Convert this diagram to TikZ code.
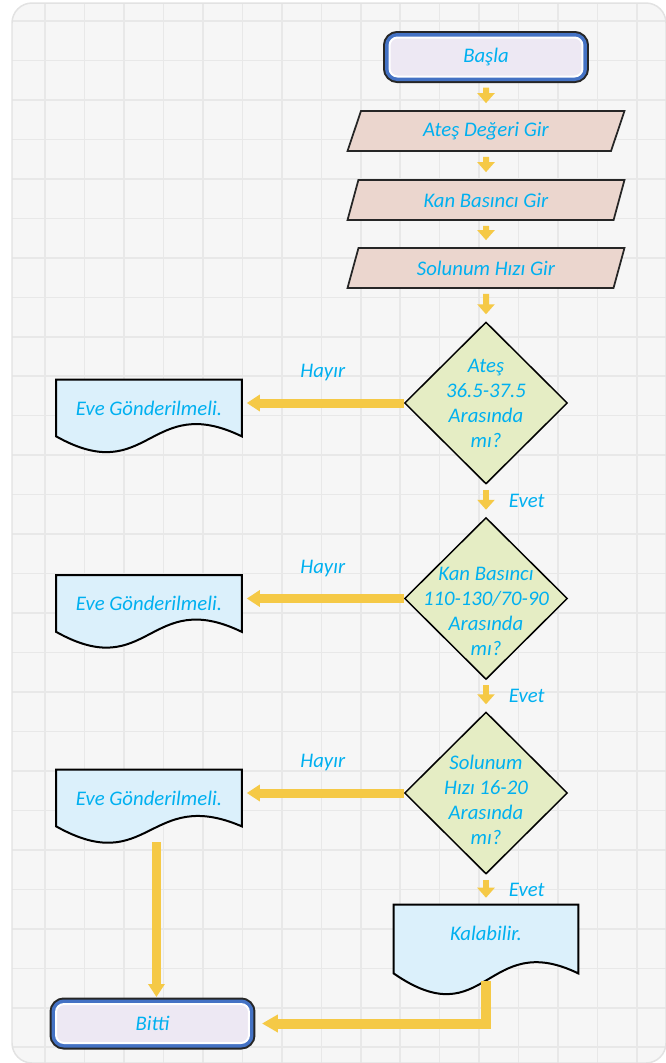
\documentclass[tikz,border=0pt]{standalone}
\usepackage{fontspec}
\setmainfont{Carlito}
\usepackage{tikz}
\usetikzlibrary{shapes,arrows.meta,positioning,calc}

\definecolor{paper}{HTML}{F6F6F6}
\definecolor{framegray}{HTML}{E2E2E2}
\definecolor{gridgray}{HTML}{E8E8E8}
\definecolor{txtblue}{HTML}{00B0F0}
\definecolor{termblue}{HTML}{4472C4}
\definecolor{lavender}{HTML}{EDE8F3}
\definecolor{parfill}{HTML}{EBD6CE}
\definecolor{decfill}{HTML}{E5EDC4}
\definecolor{docfill}{HTML}{DBF0FB}
\definecolor{flowyellow}{HTML}{F5C946}

\pgfdeclarelayer{grid}
\pgfdeclarelayer{background}
\pgfsetlayers{grid,background,main}

% document outline under a node: node, dip, rise
\newcommand{\docshape}[3]{%
  \begin{pgfonlayer}{background}
    \draw[docline] (#1.north west) -- (#1.north east) -- (#1.south east)
      .. controls ($(#1.south)+(0,-#3)$) and ($(#1.south)+(0,#2)$) .. (#1.south west) -- cycle;
  \end{pgfonlayer}}

\begin{document}
\begin{tikzpicture}[x=0.02cm,y=-0.02cm,
  txt/.style={text=txtblue,font=\itshape\fontsize{11.8}{14.2}\selectfont},
  term/.style={txt,rectangle,rounded corners=0.16cm,fill=lavender,draw=white,line width=0.04cm,
    minimum width=3.86cm,minimum height=0.78cm,
    preaction={draw=black!85,line width=0.26cm},preaction={draw=termblue,line width=0.18cm}},
  inbox/.style={txt,trapezium,trapezium left angle=53,trapezium right angle=127,trapezium stretches body,
    minimum width=5.54cm,minimum height=0.8cm,inner sep=0pt,fill=parfill,draw=black!85,line width=0.035cm},
  decision/.style={diamond,minimum width=3.26cm,minimum height=3.24cm,inner sep=0pt,
    fill=decfill,draw=black,line width=0.03cm},
  qtext/.style={txt,align=center},
  doc/.style={txt,rectangle,minimum width=3.7cm,minimum height=1.12cm,inner sep=0pt},
  docline/.style={fill=docfill,draw=black,line width=0.04cm},
  flow/.style={draw=flowyellow,line width=0.12cm,shorten <=0.1cm,shorten >=0.14cm,
    -{Triangle[width=0.34cm,length=0.2cm]}},
  flowside/.style={draw=flowyellow,line width=0.18cm,shorten >=0.1cm,
    -{Triangle[width=0.32cm,length=0.26cm]}},
  flowlong/.style={draw=flowyellow,line width=0.2cm,shorten >=0.24cm,
    -{Triangle[width=0.34cm,length=0.32cm]}},
  gridline/.style={draw=gridgray,line width=0.03cm},
  lbl/.style={txt}]

  \useasboundingbox (0,0) rectangle (666,1063);

  % squared paper
  \begin{pgfonlayer}{grid}
    \fill[paper,rounded corners=0.4cm] (12,3) rectangle (666,1063);
    \begin{scope}
      \clip[rounded corners=0.4cm] (12,3) rectangle (666,1063);
      \foreach \gx in {0,...,16}
        \draw[gridline] ({45+39.47*\gx},0) -- ({45+39.47*\gx},1063);
      \foreach \gy in {0,...,26}
        \draw[gridline] (0,{21+39.47*\gy}) -- (666,{21+39.47*\gy});
    \end{scope}
    \draw[framegray,line width=0.03cm,rounded corners=0.4cm] (12,3) rectangle (666,1063);
  \end{pgfonlayer}

  % main column
  \node[term] (start) at (486,57) {Başla};
  \node[inbox] (in1) at (486,131) {Ateş Değeri Gir};
  \node[inbox] (in2) at (486,200) {Kan Basıncı Gir};
  \node[inbox] (in3) at (486,268) {Solunum Hızı Gir};
  \node[decision,label={[qtext]center:{Ateş\\36.5-37.5\\Arasında\\mı?}}] (d1) at (486,403) {};
  \node[decision,label={[qtext,yshift=-0.26cm]center:{Kan Basıncı\\110-130/70-90\\Arasında\\mı?}}] (d2) at (486,598.5) {};
  \node[decision,label={[qtext,yshift=-0.14cm]center:{Solunum\\Hızı 16-20\\Arasında\\mı?}}] (d3) at (486,793) {};
  \node[doc,minimum width=3.68cm,minimum height=1.36cm,text depth=0.25cm] (kal) [below=0.6cm of d3] {Kalabilir.};
  \node[term] (bitti) at (152.5,1023.5) {Bitti};

  % left column
  \node[doc] (no1) [left=3.24cm of d1,yshift=-0.1cm] {Eve Gönderilmeli.};
  \node[doc] (no2) [left=3.24cm of d2,yshift=-0.1cm] {Eve Gönderilmeli.};
  \node[doc] (no3) [left=3.24cm of d3,yshift=-0.1cm] {Eve Gönderilmeli.};

  \docshape{no1}{52}{45}
  \docshape{no2}{52}{45}
  \docshape{no3}{52}{40}
  \docshape{kal}{64}{45}

  \draw[flow,shorten <=0.2cm] (start) -- (in1);
  \draw[flow] (in1) -- (in2);
  \draw[flow] (in2) -- (in3);
  \draw[flow] (in3) -- (d1);
  \draw[flow] (d1) -- node[lbl,right=0.28cm] {Evet} (d2);
  \draw[flow] (d2) -- node[lbl,right=0.28cm] {Evet} (d3);
  \draw[flow] (d3) -- node[lbl,right=0.28cm] {Evet} (kal);

  \draw[flowside] (d1.west) -- node[lbl,yshift=0.6cm] {Hayır} (d1.west -| no1.east);
  \draw[flowside] (d2.west) -- node[lbl,yshift=0.6cm] {Hayır} (d2.west -| no2.east);
  \draw[flowside] (d3.west) -- node[lbl,yshift=0.6cm] {Hayır} (d3.west -| no3.east);

  \coordinate (no3out) at ($(no3.south)+(7.5,16)$);
  \coordinate (kalout) at ($(kal.south)+(0,8)$);
  \draw[flowside,shorten >=0.12cm] (no3out) -- (no3out |- bitti.north);
  \draw[flowlong] (kalout) |- (bitti.east);
\end{tikzpicture}
\end{document}
